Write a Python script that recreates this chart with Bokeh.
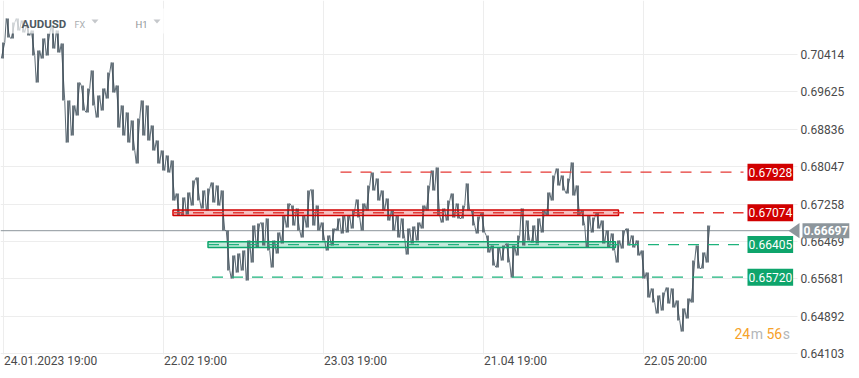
from bokeh.plotting import figure
from bokeh.models import Range1d, FixedTicker, Span, Label, PolyAnnotation, BoxAnnotation, ColumnDataSource, PrintfTickFormatter
from bokeh.embed import file_html
from bokeh.resources import INLINE

symbol = "AUDUSD"
market = "FX"
interval = "H1"

# price range of each time slice, oldest first
bar_high = [0.70656, 0.71161, 0.71077, 0.71161, 0.71119, 0.71014, 0.70909, 0.70488, 0.70741, 0.70846,
            0.71014, 0.70909, 0.70635, 0.69436, 0.69331, 0.69815, 0.69752, 0.69689, 0.70067, 0.69541,
            0.69689, 0.70025, 0.70236, 0.69752, 0.69331, 0.69184, 0.69015, 0.69057, 0.69436, 0.69331,
            0.68910, 0.68595, 0.68384, 0.68279, 0.68174, 0.67479, 0.67395, 0.67500, 0.67753, 0.67816,
            0.67543, 0.67585, 0.67711, 0.67648, 0.67543, 0.66701, 0.66175, 0.66217, 0.66280, 0.66491,
            0.66806, 0.66848, 0.66869, 0.66954, 0.66491, 0.66659, 0.67017, 0.67269, 0.67227, 0.67164,
            0.67017, 0.67543, 0.67564, 0.67227, 0.66869, 0.66596, 0.66743, 0.66954, 0.67017, 0.67017,
            0.67122, 0.67353, 0.67269, 0.67648, 0.67921, 0.67795, 0.67543, 0.67374, 0.67122, 0.67017,
            0.66954, 0.66743, 0.66785, 0.66869, 0.67227, 0.67648, 0.67963, 0.68026, 0.67164, 0.67332,
            0.67479, 0.67269, 0.67227, 0.67690, 0.67122, 0.66996, 0.67080, 0.66596, 0.66385, 0.66343,
            0.66385, 0.66428, 0.66385, 0.66596, 0.67164, 0.66911, 0.66806, 0.66954, 0.67122, 0.67500,
            0.67858, 0.68005, 0.67858, 0.67795, 0.68132, 0.67648, 0.67122, 0.67017, 0.66975, 0.67080,
            0.66911, 0.66701, 0.66638, 0.66491, 0.66701, 0.66743, 0.66596, 0.66491, 0.66280, 0.65817,
            0.65481, 0.65334, 0.65397, 0.65502, 0.65481, 0.65228, 0.65060, 0.65270, 0.66070, 0.66385,
            0.66238, 0.66806]
bar_low = [0.70320, 0.70762, 0.70741, 0.70909, 0.70867, 0.70804, 0.70383, 0.69815, 0.70320, 0.70383,
           0.70530, 0.70446, 0.69436, 0.68552, 0.68700, 0.69121, 0.69226, 0.69184, 0.69331, 0.69078,
           0.69226, 0.69478, 0.69604, 0.68868, 0.68700, 0.68552, 0.68384, 0.68111, 0.68700, 0.68595,
           0.68384, 0.68111, 0.67963, 0.67921, 0.67332, 0.67017, 0.67017, 0.67038, 0.67227, 0.67332,
           0.67164, 0.67122, 0.67290, 0.67227, 0.66701, 0.65860, 0.65691, 0.65817, 0.65860, 0.65649,
           0.66028, 0.66343, 0.66385, 0.66280, 0.65923, 0.66217, 0.66428, 0.66764, 0.66806, 0.66701,
           0.66554, 0.66764, 0.66806, 0.66701, 0.66491, 0.66280, 0.66385, 0.66701, 0.66638, 0.66659,
           0.66743, 0.66975, 0.66701, 0.67122, 0.67543, 0.67332, 0.67122, 0.66911, 0.66701, 0.66554,
           0.66533, 0.66196, 0.66428, 0.66491, 0.66743, 0.67122, 0.67543, 0.67017, 0.66869, 0.66911,
           0.66975, 0.66954, 0.66954, 0.67122, 0.66806, 0.66638, 0.66659, 0.66238, 0.65965, 0.65923,
           0.66070, 0.66028, 0.65712, 0.66175, 0.66385, 0.66491, 0.66449, 0.66428, 0.66659, 0.67017,
           0.67332, 0.67648, 0.67543, 0.67479, 0.67437, 0.67017, 0.66806, 0.66343, 0.66659, 0.66743,
           0.66428, 0.66343, 0.66280, 0.66028, 0.66322, 0.66385, 0.66343, 0.66175, 0.65691, 0.65291,
           0.65186, 0.64955, 0.65018, 0.65165, 0.65081, 0.64808, 0.64576, 0.64850, 0.65186, 0.65902,
           0.65902, 0.66028]

x_tick_bars = [0, 32, 64, 96, 128]
x_tick_labels = ["24.01.2023 19:00", "22.02 19:00", "23.03 19:00", "21.04 19:00", "22.05 20:00"]
y_ticks = [0.64103, 0.64892, 0.65681, 0.66469, 0.67258, 0.68047, 0.68836, 0.69625, 0.70414]

last_price = 0.66697
level_prices = [0.67928, 0.67074, 0.66405, 0.65720]
level_kind = ["resistance", "resistance", "support", "support"]
level_from_bar = [67.5, 34.0, 41.0, 41.8]
zone_levels = [0.67074, 0.66405]
zone_kind = ["resistance", "support"]
zone_from_bar = [34.0, 41.0]
zone_to_bar = [123.1, 122.5]
zone_half = 0.0006
countdown = [("24", "num"), ("m", "unit"), ("56", "num"), ("s", "unit")]

RED, RED_FILL = "#d10000", "#f4b0b0"
GREEN, GREEN_FILL = "#0ea56c", "#b3e6d2"
col = {"resistance": (RED, RED_FILL, "#e53935"), "support": (GREEN, GREEN_FILL, "#1db37c")}
FONT = "Roboto"

W, H = 859, 378
PX_PER_BAR = 5.0
AXIS_X_PX = 797          # where the price scale starts
AXIS_Y_PX = 354          # where the time scale starts
PRICE_TOP = 0.71540
PRICE_PER_PX = 0.00021039


def px_to_bar(px):
    return (px - 2.5) / PX_PER_BAR


def px_to_price(py):
    return PRICE_TOP - py * PRICE_PER_PX


def text_px(s, size=12.0):
    w = {".": 0.263, ":": 0.242, " ": 0.248, "m": 0.876, "s": 0.516}
    return sum(w.get(c, 0.562) for c in s) * size


n = len(bar_high)
p = figure(width=W, height=H, output_backend="svg", toolbar_location=None,
           x_range=Range1d(px_to_bar(0), px_to_bar(W)),
           y_range=Range1d(px_to_price(H), px_to_price(0)),
           y_axis_location="right", min_border_left=0, min_border_top=0,
           min_border_right=0, min_border_bottom=0, background_fill_color="white",
           border_fill_color="white")
p.outline_line_color = None

# x axis: labels start at their grid line
xa = p.xaxis[0]
xa.fixed_location = px_to_price(AXIS_Y_PX)
label_pos = [b + (1 + text_px(l) / 2) / PX_PER_BAR for b, l in zip(x_tick_bars, x_tick_labels)]
xa.ticker = FixedTicker(ticks=label_pos)
xa.major_label_overrides = {t: l for t, l in zip(label_pos, x_tick_labels)}
xa.axis_line_color = None
xa.major_tick_line_color = None
xa.minor_tick_line_color = None
xa.major_tick_out = 0
xa.major_label_standoff = -1
xa.major_label_text_font = FONT
xa.major_label_text_font_size = "12px"
xa.major_label_text_color = "#4a4a4a"

ya = p.yaxis[0]
ya.fixed_location = px_to_bar(AXIS_X_PX)
ya.ticker = FixedTicker(ticks=y_ticks)
ya.formatter = PrintfTickFormatter(format="%.5f")
ya.axis_line_color = None
ya.major_tick_line_color = None
ya.minor_tick_line_color = None
ya.major_tick_out = 0
ya.major_label_standoff = 3
ya.major_label_text_font = FONT
ya.major_label_text_font_size = "12px"
ya.major_label_text_color = "#4a4a4a"

p.xgrid.ticker = FixedTicker(ticks=x_tick_bars)
p.xgrid.grid_line_color = "#ededed"
p.ygrid.ticker = FixedTicker(ticks=y_ticks)
p.ygrid.grid_line_color = "#ededed"

p.add_layout(Span(location=last_price, dimension="width", line_color="#8d969c", line_width=1,
                  level="underlay"))

# zone fills (under the price)
for lv, kind, a, b in zip(zone_levels, zone_kind, zone_from_bar, zone_to_bar):
    line_c, fill_c, _ = col[kind]
    p.quad(left=[a], right=[b], bottom=[lv - zone_half], top=[lv + zone_half],
           fill_color=fill_c, fill_alpha=0.8, line_color=None)

# price
src = ColumnDataSource(dict(x=list(range(n)), hi=bar_high, lo=bar_low))
zx, zy = [], []
for k in range(n):
    mid = (bar_high[k] + bar_low[k]) / 2
    nxt = (bar_high[k + 1] + bar_low[k + 1]) / 2 if k + 1 < n else mid
    if nxt >= mid:
        first, second = bar_low[k], bar_high[k]
    else:
        first, second = bar_high[k], bar_low[k]
    zx += [k - 0.35, k + 0.35]
    zy += [first, second]
p.line(zx, zy, line_color="#5d6b75", line_width=1.0)
p.segment(x0="x", x1="x", y0="lo", y1="hi", source=src, line_color="#3c4b56", line_width=1.5)

# zone borders
for lv, kind, a, b in zip(zone_levels, zone_kind, zone_from_bar, zone_to_bar):
    line_c, fill_c, _ = col[kind]
    p.quad(left=[a], right=[b], bottom=[lv - zone_half], top=[lv + zone_half],
           fill_color=None, line_color=line_c, line_width=1.5)

# dashed levels
tag_bar = px_to_bar(743)
for lv, kind, a in zip(level_prices, level_kind, level_from_bar):
    _, _, dash_c = col[kind]
    p.segment(x0=[a], x1=[tag_bar], y0=[lv], y1=[lv], line_color=dash_c,
              line_width=1.3, line_dash="11 9")

# plain price-scale strip and time-scale strip
p.add_layout(BoxAnnotation(left=AXIS_X_PX, left_units="screen", fill_color="white", fill_alpha=1,
                           line_color=None, level="glyph"))
p.add_layout(BoxAnnotation(top=H - AXIS_Y_PX, top_units="screen", fill_color="white", fill_alpha=1,
                           line_color=None, level="glyph"))

# level tags
for lv, kind in zip(level_prices, level_kind):
    line_c, _, _ = col[kind]
    p.add_layout(Label(x=747, x_units="screen", y=lv, y_units="data", text=f"{lv:.5f}",
                       text_color="white", text_font=FONT, text_font_size="12px",
                       text_baseline="middle", text_align="left",
                       background_fill_color=line_c, padding=(1, 4)))

# last price tag
p.add_layout(PolyAnnotation(xs=[788, 799, 799], xs_units="screen",
                            ys=[last_price, last_price + 0.0016, last_price - 0.0016], ys_units="data",
                            fill_color="#8d969c", fill_alpha=1, line_color=None))
p.add_layout(Label(x=802, x_units="screen", y=last_price, y_units="data", text=f"{last_price:.5f}",
                   text_color="white", text_font=FONT, text_font_size="12px", text_font_style="bold",
                   text_baseline="middle", text_align="left",
                   background_fill_color="#8d969c", padding=(1, 3)))

# header (screen y measured from the bottom of the frame)
p.add_layout(BoxAnnotation(left=9, right=168, top=H - 8, bottom=H - 33, left_units="screen",
                           right_units="screen", top_units="screen", bottom_units="screen",
                           fill_color="white", fill_alpha=0.7, line_color=None))
p.add_layout(Label(x=21, y=H - 23, x_units="screen", y_units="screen", text=symbol, text_font=FONT,
                   text_font_size="11.5px", text_font_style="bold", text_color="#4e5961",
                   text_baseline="middle"))
p.add_layout(Label(x=74, y=H - 24, x_units="screen", y_units="screen", text=market, text_font=FONT,
                   text_font_size="9px", text_color="#a9adb0", text_baseline="middle"))
p.add_layout(Label(x=135, y=H - 24, x_units="screen", y_units="screen", text=interval, text_font=FONT,
                   text_font_size="9.5px", text_color="#8f9498", text_baseline="middle"))
for x0 in (91, 153):
    p.add_layout(PolyAnnotation(xs=[x0, x0 + 7, x0 + 3.5], ys=[H - 19, H - 19, H - 23],
                                xs_units="screen", ys_units="screen", fill_color="#c5c8cb",
                                fill_alpha=1, line_color=None))

# countdown
cx = 734
for txt, kind in countdown:
    p.add_layout(Label(x=cx, y=H - 333, x_units="screen", y_units="screen", text=txt, text_font=FONT,
                       text_font_size="14px", text_color="#f6a22a" if kind == "num" else "#b3b6b9",
                       text_baseline="middle"))
    cx += text_px(txt, 14) + (0.5 if kind == "num" else 3.5)

open("out.html", "w").write(file_html(p, INLINE))
